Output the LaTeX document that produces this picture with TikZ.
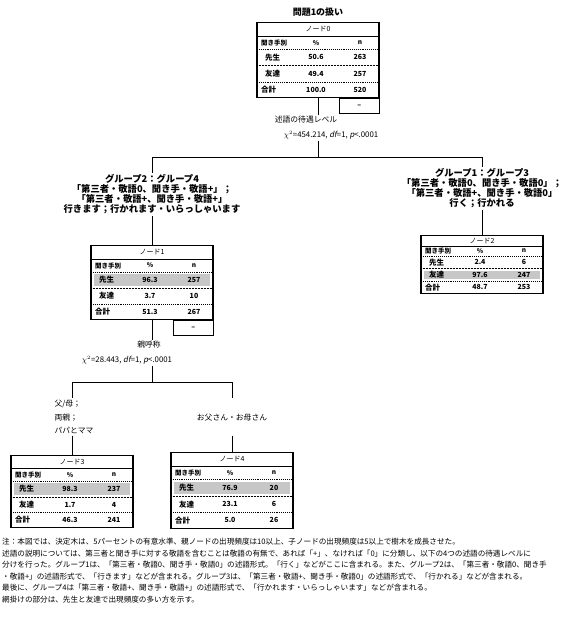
\documentclass[tikz,border=0pt]{standalone}
\usepackage{fontspec}
\setmainfont[AutoFakeSlant=0.2]{Noto Sans CJK JP}
\usetikzlibrary{calc}
\tikzset{
 box/.style={draw, line width=1.3pt, minimum width=122pt, anchor=north, inner sep=0pt},
 ttl/.style={font=\fontsize{7}{8}\selectfont, inner sep=0pt},
 hdr/.style={font=\fontsize{6.5}{7}\selectfont\bfseries, inner sep=0pt},
 lbl/.style={font=\fontsize{7.5}{8}\selectfont\bfseries, inner sep=0pt},
 num/.style={font=\fontsize{7}{8}\selectfont\bfseries, inner sep=0pt},
 shadebox/.style={fill=black!22},
 tabbox/.style={draw, line width=0.9pt, minimum width=40pt, minimum height=15pt, inner sep=0pt, font=\fontsize{7}{8}\selectfont\bfseries},
 conn/.style={line width=0.8pt},
 grp/.style={align=center, font=\fontsize{9.3}{10}\selectfont\bfseries, inner sep=2pt},
 split/.style={font=\fontsize{7.8}{9}\selectfont, inner sep=1.5pt},
 note/.style={anchor=west, inner sep=0pt, font=\fontsize{7.6}{9}\selectfont},
}
\newcommand\tboxframe[6]{%
 \pgfmathsetmacro\bL{#2-61}%
 \pgfmathsetmacro\bR{#2+61}%
 \pgfmathsetmacro\bB{#3+#4}%
 \pgfmathsetmacro\yA{#3+0.19*#4}%
 \pgfmathsetmacro\yB{#3+0.365*#4}%
 \pgfmathsetmacro\yC{#3+0.58*#4}%
 \pgfmathsetmacro\yD{#3+0.80*#4}%
 \pgfmathsetmacro\xP{#2-2}%
 \pgfmathsetmacro\xN{#2+42}%
 \pgfmathsetmacro\yT{(#3+\yA)/2}%
 \pgfmathsetmacro\yH{(\yA+\yB)/2}%
 \pgfmathsetmacro\yR{(\yB+\yC)/2}%
 \pgfmathsetmacro\yS{(\yC+\yD)/2}%
 \pgfmathsetmacro\yU{(\yD+\bB)/2}%
 \ifnum#6=1 \fill[shadebox] (\bL+3,\yB+2) rectangle (\bR-3,\yC-2);\fi
 \ifnum#6=2 \fill[shadebox] (\bL+3,\yC+2) rectangle (\bR-3,\yD-2);\fi
 \node[box, minimum height=#4pt] (#1) at (#2,#3) {};
 \draw[line width=0.8pt] (\bL,\yA) -- (\bR,\yA);
 \draw[line width=0.9pt, densely dotted] (\bL,\yB) -- (\bR,\yB);
 \draw[line width=0.5pt, densely dotted] (\bL,\yC) -- (\bR,\yC);
 \draw[line width=0.9pt, densely dotted] (\bL,\yD) -- (\bR,\yD);
 \node[ttl] (#1title) at (#2,\yT) {#5};
 \node[hdr, anchor=west] (#1hl) at (\bL+4,\yH) {聞き手別};
 \node[hdr] (#1hp) at (\xP,\yH) {\%};
 \node[hdr] (#1hn) at (\xN,\yH) {n};
}
\newcommand\tboxrows[7]{%
 \node[lbl, anchor=west] (#1la) at (\bL+8,\yR) {先生};
 \node[num] (#1pa) at (\xP,\yR) {#2};
 \node[num] (#1na) at (\xN,\yR) {#3};
 \node[lbl, anchor=west] (#1lb) at (\bL+8,\yS) {友達};
 \node[num] (#1pb) at (\xP,\yS) {#4};
 \node[num] (#1nb) at (\xN,\yS) {#5};
 \node[lbl, anchor=west] (#1lc) at (\bL+4,\yU) {合計};
 \node[num] (#1pc) at (\xP,\yU) {#6};
 \node[num] (#1nc) at (\xN,\yU) {#7};
}
\begin{document}
\begin{tikzpicture}[x=1pt,y=-1pt]
\useasboundingbox (0,0) rectangle (563,625);
\clip (0,0) rectangle (563,625);
\fill[white] (0,0) rectangle (563,625);
\node[font=\fontsize{9}{10}\selectfont\bfseries] (title) at (318,12) {問題1の扱い};
\tboxframe{n0}{318}{22}{75}{ノード0}{0}
\tboxrows{n0}{50.6}{263}{49.4}{257}{100.0}{520}
\node[tabbox, anchor=north east] (n0tab) at (n0.south east) {–};
\node[split] (lab0) at (306,120) {述語の待遇レベル};
\node[split] (chi0) at (331,135) {$\chi^2$=454.214, \textit{df}=1, \textit{p}<.0001};
\coordinate (bar0) at (318,157);
\coordinate (barL) at (152,157);
\coordinate (barR) at (482,157);
\node[grp] (gL) at (152,194.5) {グループ2：グループ4\\「第三者・敬語0、聞き手・敬語+」；\\「第三者・敬語+、聞き手・敬語+」\\行きます；行かれます・いらっしゃいます};
\node[grp] (gR) at (482,188.5) {グループ1：グループ3\\「第三者・敬語0、聞き手・敬語0」；\\「第三者・敬語+、聞き手・敬語0」\\行く；行かれる};
\tboxframe{n1}{152}{245}{74}{ノード1}{1}
\tboxrows{n1}{96.3}{257}{3.7}{10}{51.3}{267}
\node[tabbox, anchor=north east] (n1tab) at (n1.south east) {–};
\tboxframe{n2}{482}{235}{58}{ノード2}{2}
\tboxrows{n2}{2.4}{6}{97.6}{247}{48.7}{253}
\node[split] (lab1) at (149,345) {親呼称};
\node[split] (chi1) at (127,360) {$\chi^2$=28.443, \textit{df}=1, \textit{p}<.0001};
\coordinate (bar1) at (152,382);
\coordinate (bar1L) at (72,382);
\coordinate (bar1R) at (232,382);
\node[split, align=left, font=\fontsize{7.8}{13.5}\selectfont] (tL) at (74,417) {父/母；\\両親；\\パパとママ};
\node[split] (tR) at (232,418) {お父さん・お母さん};
\tboxframe{n3}{72}{455}{72}{ノード3}{1}
\tboxrows{n3}{98.3}{237}{1.7}{4}{46.3}{241}
\tboxframe{n4}{232}{452}{76}{ノード4}{1}
\tboxrows{n4}{76.9}{20}{23.1}{6}{5.0}{26}
% connectors
\draw[conn] (n0.south) -- (n0.south |- lab0.north);
\draw[conn] (bar0 |- chi0.south) -- (bar0);
\draw[conn] (barL) -- (barR);
\draw[conn] (barL) -- (gL.north);
\draw[conn] (barR) -- (gR.north);
\draw[conn] (gL.south) -- (n1.north);
\draw[conn] (gR.south) -- (n2.north);
\draw[conn] (n1.south) -- (n1.south |- lab1.north);
\draw[conn] (bar1 |- chi1.south) -- (bar1);
\draw[conn] (bar1L) -- (bar1R);
\draw[conn] (bar1L) -- (bar1L |- tL.north);
\draw[conn] (bar1R) -- (bar1R |- tL.north);
\draw[conn] (bar1L |- tL.south) -- (n3.north);
\draw[conn] (bar1R |- tL.south) -- (n4.north);
% notes
\node[note] (fn1) at (2,542) {注：本図では、決定木は、5パーセントの有意水準、親ノードの出現頻度は10以上、子ノードの出現頻度は5以上で樹木を成長させた。};
\node[note] (fn2) at (2,553.5) {述語の説明については、第三者と聞き手に対する敬語を含むことは敬語の有無で、あれば「+」、なければ「0」に分類し、以下の4つの述語の待遇レベルに};
\node[note] (fn3) at (2,565) {分けを行った。グループ1は、「第三者・敬語0、聞き手・敬語0」の述語形式。「行く」などがここに含まれる。また、グループ2は、「第三者・敬語0、聞き手};
\node[note] (fn4) at (2,576.5) {・敬語+」の述語形式で、「行きます」などが含まれる。グループ3は、「第三者・敬語+、聞き手・敬語0」の述語形式で、「行かれる」などが含まれる。};
\node[note] (fn5) at (2,588) {最後に、グループ4は「第三者・敬語+、聞き手・敬語+」の述語形式で、「行かれます・いらっしゃいます」などが含まれる。};
\node[note] (fn6) at (2,599.5) {網掛けの部分は、先生と友達で出現頻度の多い方を示す。};
\end{tikzpicture}
\end{document}
